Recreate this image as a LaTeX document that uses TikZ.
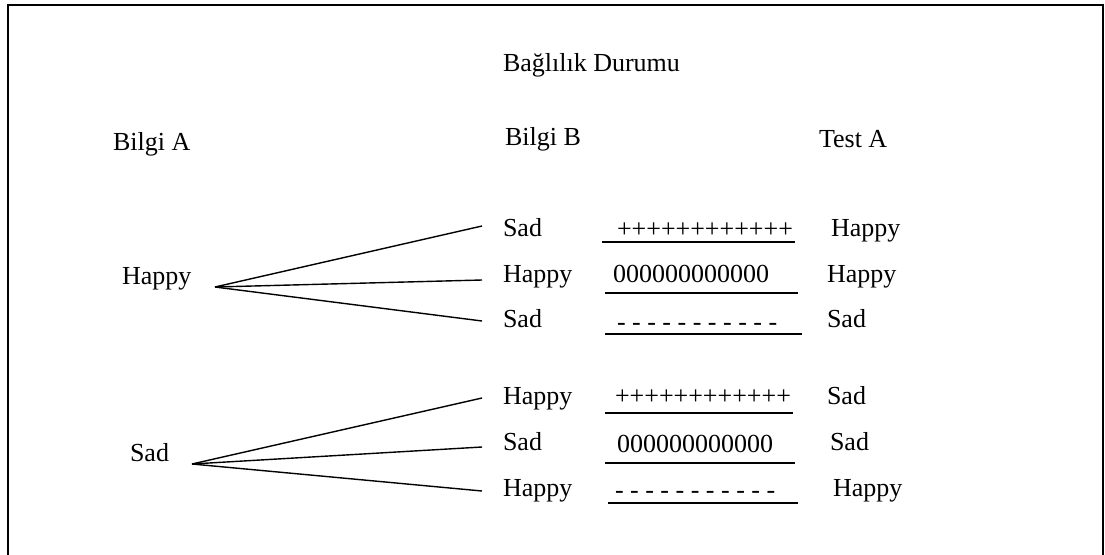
\documentclass[tikz,border=0pt]{standalone}
\usepackage{fontspec}
\setmainfont{Liberation Serif}
\begin{document}
\begin{tikzpicture}[x=1pt,y=-1pt,
  lbl/.style={anchor=base west,inner sep=0pt,outer sep=0pt,font=\fontsize{26}{30}\selectfont},
  sym/.style={anchor=base west,inner sep=0pt,outer sep=0pt,font=\fontsize{26}{30}\selectfont},
  conn/.style={line width=1.4pt},
  uline/.style={line width=1.5pt}]
\useasboundingbox (0,0) rectangle (1105,554);
\draw[line width=1.8pt] (8,600) -- (8,5) -- (1103,5) -- (1103,600);
% headers
\node[lbl] (title) at (503,71) {Bağlılık Durumu};
\node[lbl] (bilgiA) at (113,150) {Bilgi A};
\node[lbl] (bilgiB) at (505,145) {Bilgi B};
\node[lbl] (testA) at (819,147) {Test A};
% left column
\node[lbl] (hA) at (122,284) {Happy};
\node[lbl] (sA) at (130,461) {Sad};
\coordinate (hApex) at (215,287);
\coordinate (sApex) at (192,464);
% Bilgi B column
\node[lbl] (b1) at (503,236) {Sad};
\node[lbl] (b2) at (503,282) {Happy};
\node[lbl] (b3) at (503,327) {Sad};
\node[lbl] (b4) at (503,404) {Happy};
\node[lbl] (b5) at (503,450) {Sad};
\node[lbl] (b6) at (503,496) {Happy};
\coordinate (e1) at (482,226);
\coordinate (e2) at (482,280);
\coordinate (e3) at (482,321);
\coordinate (e4) at (482,398);
\coordinate (e5) at (482,447);
\coordinate (e6) at (482,491);
\draw[conn] (hApex) -- (e1);
\draw[conn] (hApex) -- (e2);
\draw[conn] (hApex) -- (e3);
\draw[conn] (sApex) -- (e4);
\draw[conn] (sApex) -- (e5);
\draw[conn] (sApex) -- (e6);
% symbols
\node[sym] (p1) at (617,237) {++++++++++++};
\node[sym] (z1) at (613,282) {000000000000};
\node[sym] (d1) at (617,330) {- - - - - - - - - - -};
\node[sym] (p2) at (615,404) {++++++++++++};
\node[sym] (z2) at (617,452) {000000000000};
\node[sym] (d2) at (615,498) {- - - - - - - - - - -};
\draw[uline] (602,242) coordinate (u1a) -- (795,242) coordinate (u1b);
\draw[uline] (605,293) coordinate (u2a) -- (798,293) coordinate (u2b);
\draw[uline] (605,334) coordinate (u3a) -- (802,334) coordinate (u3b);
\draw[uline] (605,413) coordinate (u4a) -- (793,413) coordinate (u4b);
\draw[uline] (605,463) coordinate (u5a) -- (795,463) coordinate (u5b);
\draw[uline] (608,503) coordinate (u6a) -- (798,503) coordinate (u6b);
% Test A column
\node[lbl] (t1) at (831,236) {Happy};
\node[lbl] (t2) at (827,282) {Happy};
\node[lbl] (t3) at (827,327) {Sad};
\node[lbl] (t4) at (827,404) {Sad};
\node[lbl] (t5) at (830,450) {Sad};
\node[lbl] (t6) at (833,496) {Happy};
\end{tikzpicture}
\end{document}
